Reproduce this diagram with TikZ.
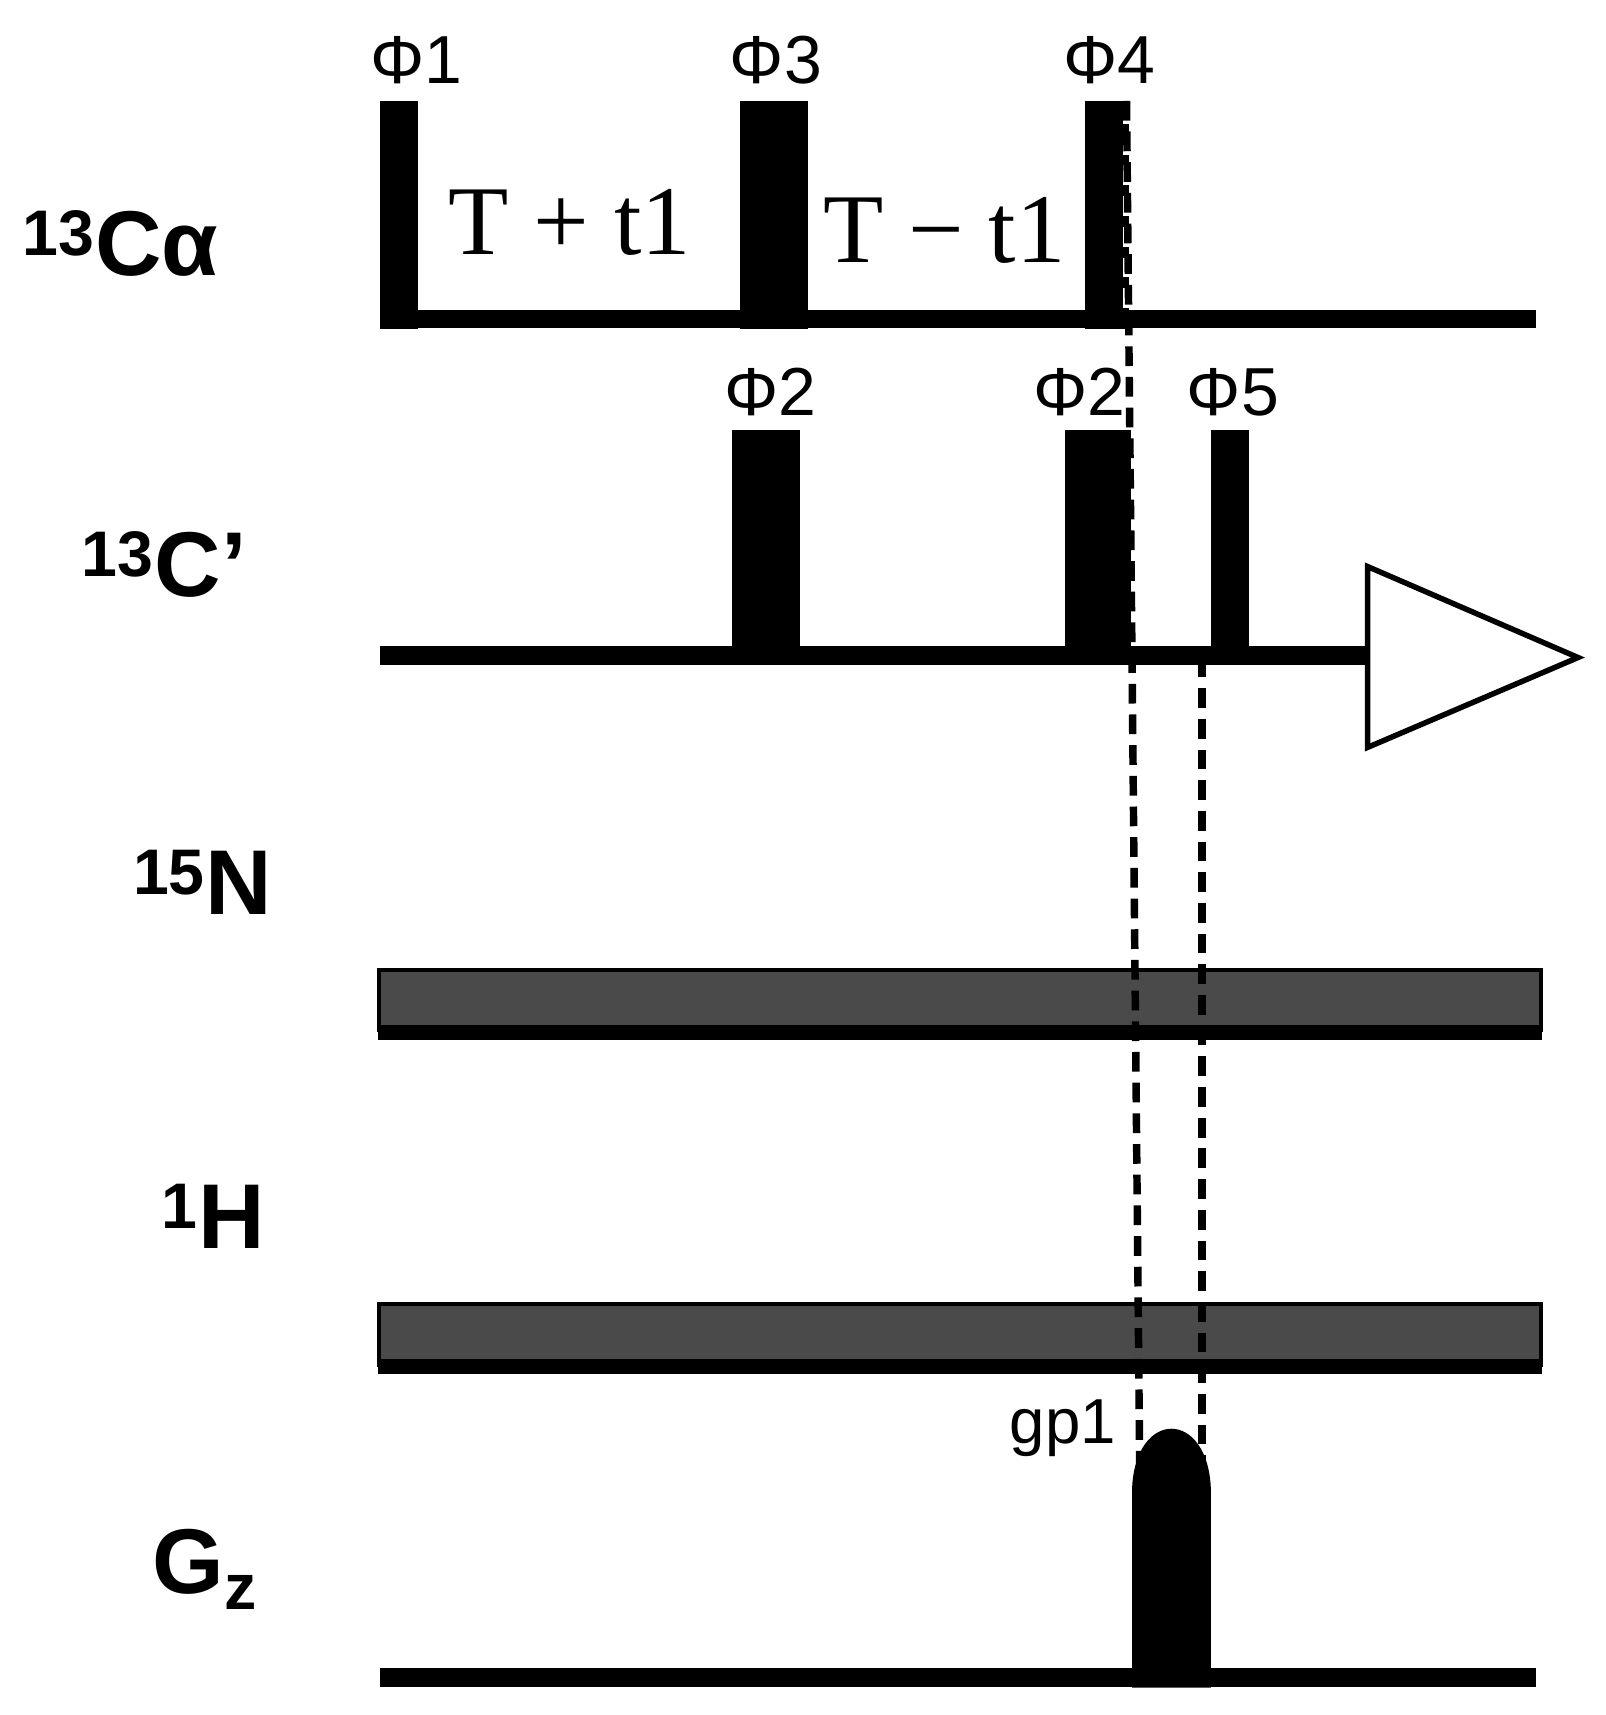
\documentclass[tikz,border=0pt]{standalone}
\usepackage{fontspec}
\setmainfont{Liberation Sans}
\newfontfamily\serifT{Liberation Serif}
\begin{document}
\begin{tikzpicture}[x=0.5pt,y=-0.5pt,
 pulse/.style={fill=black},
 base/.style={line width=8.5pt},
 lab/.style={font=\bfseries\fontsize{42}{44}\selectfont},
 ph/.style={font=\fontsize{31}{33}\selectfont},
 dsh/.style={line width=3.4pt,dash pattern=on 9pt off 5pt}]
\useasboundingbox (0,0) rectangle (1465,1565);
% labels
\node[lab] (lca) at (110,222) {\textsuperscript{13}Cα};
\node[lab] (lcp) at (150,515) {\textsuperscript{13}C’};
\node[lab] (ln) at (185,805) {\textsuperscript{15}N};
\node[lab] (lh) at (195,1110) {\textsuperscript{1}H};
\node[lab] (lg) at (187,1432) {G\textsubscript{z}};
% Calpha
\draw[base] (347,291) -- (1402,291);
\fill[pulse] (347,92) rectangle (381,300);
\fill[pulse] (675,92) rectangle (737,300);
\fill[pulse] (990,92) rectangle (1030,300);
\node[ph] at (380,55) {Φ1};
\node[ph] at (708,55) {Φ3};
\node[ph] at (1012,55) {Φ4};
\node[font=\serifT\fontsize{45}{47}\selectfont] at (520,203) {T + t1};
\node[font=\serifT\fontsize{45}{47}\selectfont] at (862,210) {T − t1};
% C'
\draw[base] (347,598) -- (1250,598);
\fill[pulse] (668,392) rectangle (730,607);
\fill[pulse] (972,392) rectangle (1032,607);
\fill[pulse] (1105,392) rectangle (1140,607);
\node[ph] at (703,358) {Φ2};
\node[ph] at (985,358) {Φ2};
\node[ph] at (1125,358) {Φ5};
\draw[line width=2.5pt,fill=white,line join=miter] (1248,517) -- (1440,600) -- (1248,682) -- cycle;
% N and H bars
\foreach \y in {885,1190}{
 \draw[line width=2pt,fill=black!71] (346,\y) rectangle (1406,\y+55);
 \draw[line width=7pt] (345,\y+57) -- (1407,\y+57);
}
% Gz
\draw[base] (347,1531) -- (1402,1531);
\fill[pulse] (1033,1540) -- (1033,1360) .. controls (1035,1285) and (1103,1285) .. (1105,1360) -- (1105,1540) -- cycle;
\node[font=\fontsize{29}{31}\selectfont] at (970,1303) {gp1};
% dashed
\draw[dsh,white] (1028,95) -- (1028,290);
\draw[dsh] (1028,92) -- (1033,600) -- (1040,1335);
\draw[dsh] (1097,600) -- (1097,1335);
\end{tikzpicture}
\end{document}
